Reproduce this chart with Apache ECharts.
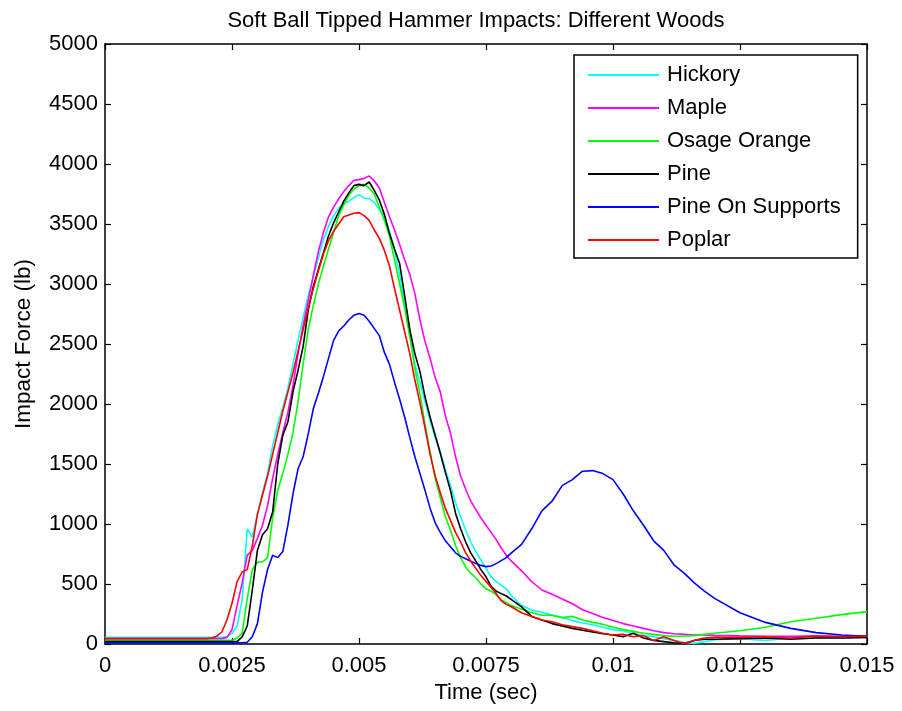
<!DOCTYPE html>
<html>
<head>
<meta charset="utf-8">
<script src="https://cdn.jsdelivr.net/npm/echarts@6/dist/echarts.min.js"></script>
<style>html,body{margin:0;padding:0;background:#fff;}#c{width:902px;height:711px;}</style>
</head>
<body>
<div id="c"></div>
<script>
var timeSec = [0, 0.0005, 0.001, 0.0015, 0.002,
  0.0021, 0.0022, 0.0023, 0.0024, 0.0025, 0.0026, 0.0027, 0.0028, 0.0029, 0.0030,
  0.0031, 0.0032, 0.0033, 0.0034, 0.0035, 0.0036, 0.0037, 0.0038, 0.0039, 0.0040,
  0.0041, 0.0042, 0.0043, 0.0044, 0.0045, 0.0046, 0.0047, 0.0048, 0.0049, 0.0050,
  0.0051, 0.0052, 0.0053, 0.0054, 0.0055, 0.0056, 0.0057, 0.0058, 0.0059, 0.0060,
  0.0061, 0.0062, 0.0063, 0.0064, 0.0065, 0.0066, 0.0067, 0.0068, 0.0069, 0.0070,
  0.0071, 0.0072, 0.0073, 0.0074, 0.0075, 0.0076, 0.0077, 0.0078, 0.0079, 0.0080,
  0.0082, 0.0084, 0.0086, 0.0088, 0.0090, 0.0092, 0.0094, 0.0096, 0.0098, 0.0100,
  0.0102, 0.0104, 0.0106, 0.0108, 0.0110, 0.0112, 0.0114, 0.0116, 0.0118, 0.0120,
  0.0125, 0.0130, 0.0135, 0.0140, 0.0145, 0.0150];

var hickory = [55, 55, 55, 55, 55,
  55, 55, 55, 60, 90, 150, 370, 960, 890, 1080,
  1260, 1420, 1650, 1830, 1970, 2130, 2330, 2530, 2720, 2900,
  3060, 3220, 3370, 3480, 3570, 3630, 3670, 3690, 3720, 3745,
  3715, 3710, 3680, 3620, 3560, 3440, 3280, 3080, 2850, 2600,
  2330, 2180, 2020, 1860, 1720, 1600, 1450, 1320, 1180, 1060,
  950, 850, 770, 700, 630, 560, 520, 490, 460, 400,
  320, 283, 265, 242, 220, 195, 175, 160, 140, 120,
  110, 85, 70, 60, 45, 30, 15, 5, 20, 35,
  45, 30, 50, 55, 50, 55];

var maple = [45, 45, 45, 45, 45,
  45, 45, 45, 55, 120, 320, 510, 740, 780, 880,
  990, 1150, 1380, 1580, 1760, 1930, 2150, 2420, 2650, 2860,
  3070, 3270, 3430, 3560, 3640, 3710, 3770, 3820, 3865, 3870,
  3880, 3900, 3860, 3800, 3680, 3560, 3450, 3330, 3200, 3080,
  2920, 2700, 2520, 2380, 2220, 2100, 1900, 1760, 1560, 1400,
  1290, 1190, 1120, 1050, 990, 930, 870, 800, 740, 690,
  610, 520, 450, 415, 375, 335, 285, 255, 220, 195,
  170, 150, 130, 110, 95, 85, 80, 75, 75, 72,
  68, 65, 65, 68, 65, 70];

var osageOrange = [30, 30, 30, 30, 30,
  30, 30, 30, 30, 30, 50, 90, 380, 620, 680,
  685, 720, 1050, 1280, 1420, 1580, 1760, 2020, 2330, 2620,
  2820, 3000, 3150, 3290, 3430, 3570, 3660, 3740, 3790, 3820,
  3830, 3800, 3750, 3640, 3530, 3400, 3200, 3000, 2800, 2560,
  2300, 2080, 1830, 1600, 1380, 1220, 1060, 950, 820, 720,
  640, 590, 550, 500, 460, 440, 410, 370, 345, 320,
  290, 260, 240, 240, 220, 230, 200, 180, 165, 140,
  120, 105, 90, 80, 70, 65, 67, 70, 80, 90,
  110, 140, 185, 215, 245, 270];

var pine = [20, 20, 20, 20, 20,
  20, 20, 20, 20, 20, 20, 60, 150, 450, 780,
  910, 960, 1100, 1500, 1740, 1850, 2100, 2280, 2480, 2780,
  2980, 3120, 3260, 3400, 3510, 3600, 3690, 3760, 3820, 3830,
  3820, 3850, 3780, 3700, 3580, 3420, 3290, 3170, 2900, 2620,
  2420, 2270, 2060, 1890, 1740, 1590, 1430, 1280, 1090, 960,
  850, 760, 690, 620, 560, 480, 440, 420, 400, 370,
  310, 230, 200, 170, 150, 130, 115, 100, 85, 75,
  60, 90, 50, 30, 20, 10, 5, 30, 40, 40,
  45, 50, 40, 50, 50, 55];

var pineOnSupports = [10, 10, 10, 10, 10,
  10, 10, 10, 10, 10, 10, 10, 15, 60, 170,
  430, 620, 740, 720, 770, 990, 1250, 1460, 1560, 1750,
  1960, 2090, 2230, 2380, 2530, 2610, 2650, 2700, 2740, 2755,
  2740, 2690, 2630, 2570, 2430, 2330, 2180, 2040, 1890, 1720,
  1560, 1420, 1280, 1130, 1010, 930, 860, 810, 760, 730,
  710, 690, 670, 655, 645, 650, 670, 695, 720, 760,
  830, 960, 1110, 1190, 1320, 1370, 1440, 1445, 1420, 1370,
  1250, 1110, 990, 860, 780, 660, 590, 510, 440, 380,
  260, 180, 130, 95, 75, 65];

var poplar = [45, 45, 45, 45, 45,
  50, 65, 100, 200, 340, 520, 600, 620, 820, 1080,
  1240, 1400, 1580, 1760, 1940, 2100, 2260, 2440, 2620, 2800,
  2960, 3110, 3250, 3360, 3440, 3500, 3560, 3575, 3590, 3595,
  3570, 3530, 3450, 3380, 3280, 3150, 2960, 2780, 2600, 2420,
  2200, 2010, 1800, 1580, 1400, 1260, 1130, 1030, 930, 850,
  760, 690, 630, 570, 520, 470, 420, 360, 330, 310,
  260, 230, 200, 185, 160, 145, 130, 110, 90, 75,
  80, 60, 70, 30, 60, 30, 5, 30, 50, 55,
  55, 60, 50, 65, 60, 65];

var seriesNames = ['Hickory', 'Maple', 'Osage Orange', 'Pine', 'Pine On Supports', 'Poplar'];
var seriesValues = [hickory, maple, osageOrange, pine, pineOnSupports, poplar];
var seriesColors = ['#00FFFF', '#FF00FF', '#00FF00', '#000000', '#0000FF', '#FF0000'];

var xTickValues = [0, 0.0025, 0.005, 0.0075, 0.01, 0.0125, 0.015];
var xTickLabels = ['0', '0.0025', '0.005', '0.0075', '0.01', '0.0125', '0.015'];

var FONT = '"Liberation Sans", Arial, Helvetica, sans-serif';
var FS = 22;

function pairs(vals) {
  return timeSec.map(function (t, i) { return [t, vals[i]]; });
}

var chart = echarts.init(document.getElementById('c'), null, {renderer: 'canvas'});

var axisCommon = {
  axisLine: {show: true, onZero: false, lineStyle: {color: '#000', width: 1.5}},
  axisTick: {show: true, inside: true, length: 6, lineStyle: {color: '#000', width: 1.2}},
  splitLine: {show: false}
};

var option = {
  animation: false,
  backgroundColor: '#fff',
  title: {
    text: 'Soft Ball Tipped Hammer Impacts: Different Woods',
    left: 471, top: 5, textAlign: 'center',
    textStyle: {fontFamily: FONT, fontSize: FS, fontWeight: 'normal', color: '#000'}
  },
  grid: {left: 105, right: 35, top: 44, bottom: 67, containLabel: false},
  legend: {
    orient: 'vertical', left: 574, top: 55,
    padding: [9, 17, 7, 14],
    itemGap: 11, itemWidth: 71, itemHeight: 2,
    icon: 'rect',
    backgroundColor: '#fff', borderColor: '#000', borderWidth: 1.5,
    textStyle: {fontFamily: FONT, fontSize: FS, color: '#000', lineHeight: 22, padding: [0, 0, 0, 3]},
    data: seriesNames
  },
  xAxis: [
    Object.assign({
      type: 'value', min: 0, max: 0.015, interval: 0.0025, position: 'bottom',
      name: 'Time (sec)', nameLocation: 'middle', nameGap: 37,
      nameTextStyle: {fontFamily: FONT, fontSize: FS, color: '#000'},
      axisLabel: {
        fontFamily: FONT, fontSize: FS, color: '#000', margin: 11,
        formatter: function (v) {
          var idx = xTickValues.findIndex(function (t) { return Math.abs(t - v) < 1e-9; });
          return idx >= 0 ? xTickLabels[idx] : '';
        }
      }
    }, axisCommon),
    Object.assign({
      type: 'value', min: 0, max: 0.015, interval: 0.0025, position: 'top',
      axisLabel: {show: false}
    }, axisCommon)
  ],
  yAxis: [
    Object.assign({
      type: 'value', min: 0, max: 5000, interval: 500, position: 'left',
      name: 'Impact Force (lb)', nameLocation: 'middle', nameGap: 70, nameRotate: 90,
      nameTextStyle: {fontFamily: FONT, fontSize: 22.5, color: '#000'},
      axisLabel: {fontFamily: FONT, fontSize: FS, color: '#000', margin: 7,
        formatter: function (v) { return String(v); }}
    }, axisCommon),
    Object.assign({
      type: 'value', min: 0, max: 5000, interval: 500, position: 'right',
      axisLabel: {show: false}
    }, axisCommon)
  ],
  series: seriesNames.map(function (name, i) {
    return {
      name: name, type: 'line', xAxisIndex: 0, yAxisIndex: 0,
      data: pairs(seriesValues[i]),
      showSymbol: false, symbol: 'none',
      itemStyle: {color: seriesColors[i]},
      lineStyle: {color: seriesColors[i], width: 1.6},
      clip: true
    };
  })
};

chart.setOption(option);
</script>
</body>
</html>
